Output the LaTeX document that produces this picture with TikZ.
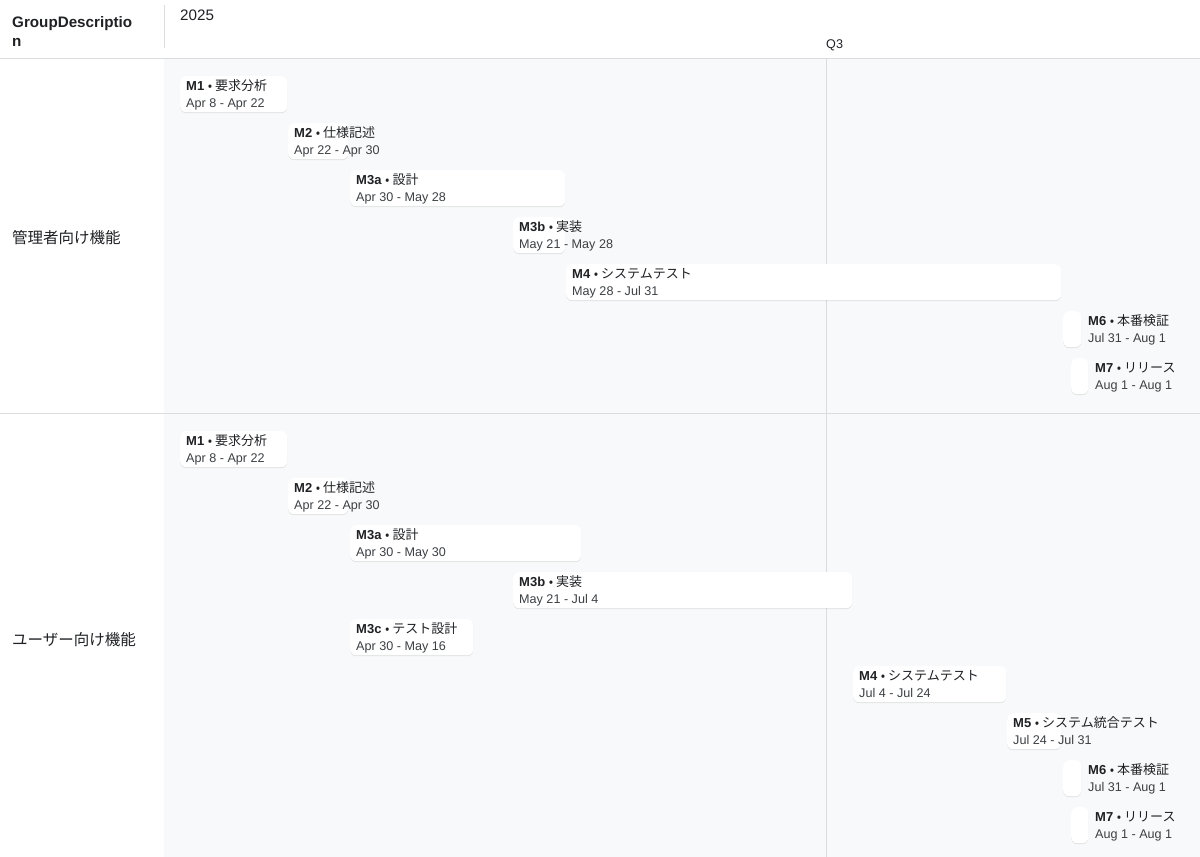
\documentclass[tikz,border=0pt]{standalone}
\usepackage{fontspec}
\setmainfont{Liberation Sans}
\newfontfamily\cjk{Noto Sans CJK JP}
\usetikzlibrary{shadows}
\definecolor{chartbg}{HTML}{F8F9FA}
\definecolor{gridline}{HTML}{DADCE0}
\definecolor{maintext}{HTML}{202124}
\definecolor{datetext}{HTML}{3C4043}
\tikzset{
  barbox/.style={fill=white, rounded corners=6pt, inner sep=0pt, minimum height=36pt,
    drop shadow={opacity=0.18, shadow xshift=0pt, shadow yshift=-1pt}},
  ttl/.style={inner sep=0pt, text=maintext, font=\fontsize{13}{15}\selectfont},
  dt/.style={inner sep=0pt, text=datetext, font=\fontsize{12.6}{14}\selectfont},
  hdr/.style={inner sep=0pt, text=maintext, font=\fontsize{15.2}{18}\selectfont},
  grp/.style={inner sep=0pt, text=maintext, font=\cjk\fontsize{15.5}{18}\selectfont},
  rule/.style={draw=gridline, line width=1pt}
}
\newcommand\gbar[8]{%
  \node[barbox, minimum width=#3pt, anchor=north west] (#1) at (#2,#4) {};
  \node[ttl, anchor=base west] (#1t) at (#5,#4+14.5) {\textbf{#6} {\cjk\fontsize{13}{15}\selectfont • #7}};
  \node[dt, anchor=base west] (#1d) at (#5,#4+31.5) {#8};
}
\begin{document}
\begin{tikzpicture}[x=1pt,y=-1pt]
\useasboundingbox (0,0) rectangle (1200,857);
\fill[white] (0,0) rectangle (1200,857);
\fill[chartbg] (164,58) rectangle (1200,857);
% header
\node[hdr, anchor=base west] (h1) at (12,27) {\textbf{GroupDescriptio}};
\node[hdr, anchor=base west] (h2) at (12,46) {\textbf{n}};
\draw[rule] (164,5) -- (164,48);
\node[hdr, anchor=base west] (yr) at (180,20.5) {2025};
\node[dt, anchor=base west, text=maintext] (q3) at (826,48) {Q3};
\draw[rule] (0,58) -- (1200,58);
\draw[rule] (0,413) -- (1200,413);
\draw[rule] (826,58) -- (826,857);
% group labels
\node[grp, anchor=west] (g1) at (12,238) {管理者向け機能};
\node[grp, anchor=west] (g2) at (12,640) {ユーザー向け機能};
% group 1
\gbar{a1}{180}{107}{76}{186}{M1}{要求分析}{Apr 8 - Apr 22}
\gbar{a2}{288}{60}{123}{294}{M2}{仕様記述}{Apr 22 - Apr 30}
\gbar{a3}{350}{215}{170}{356}{M3a}{設計}{Apr 30 - May 28}
\gbar{a4}{513}{52}{217}{519}{M3b}{実装}{May 21 - May 28}
\gbar{a5}{566}{495}{264}{572}{M4}{システムテスト}{May 28 - Jul 31}
\gbar{a6}{1063}{18}{311}{1088}{M6}{本番検証}{Jul 31 - Aug 1}
\gbar{a7}{1071}{17}{358}{1095}{M7}{リリース}{Aug 1 - Aug 1}
% group 2
\gbar{b1}{180}{107}{431}{186}{M1}{要求分析}{Apr 8 - Apr 22}
\gbar{b2}{288}{60}{478}{294}{M2}{仕様記述}{Apr 22 - Apr 30}
\gbar{b3}{350}{231}{525}{356}{M3a}{設計}{Apr 30 - May 30}
\gbar{b4}{513}{339}{572}{519}{M3b}{実装}{May 21 - Jul 4}
\gbar{b5}{350}{123}{619}{356}{M3c}{テスト設計}{Apr 30 - May 16}
\gbar{b6}{853}{153}{666}{859}{M4}{システムテスト}{Jul 4 - Jul 24}
\gbar{b7}{1007}{54}{713}{1013}{M5}{システム統合テスト}{Jul 24 - Jul 31}
\gbar{b8}{1063}{18}{760}{1088}{M6}{本番検証}{Jul 31 - Aug 1}
\gbar{b9}{1071}{17}{807}{1095}{M7}{リリース}{Aug 1 - Aug 1}
\end{tikzpicture}
\end{document}
